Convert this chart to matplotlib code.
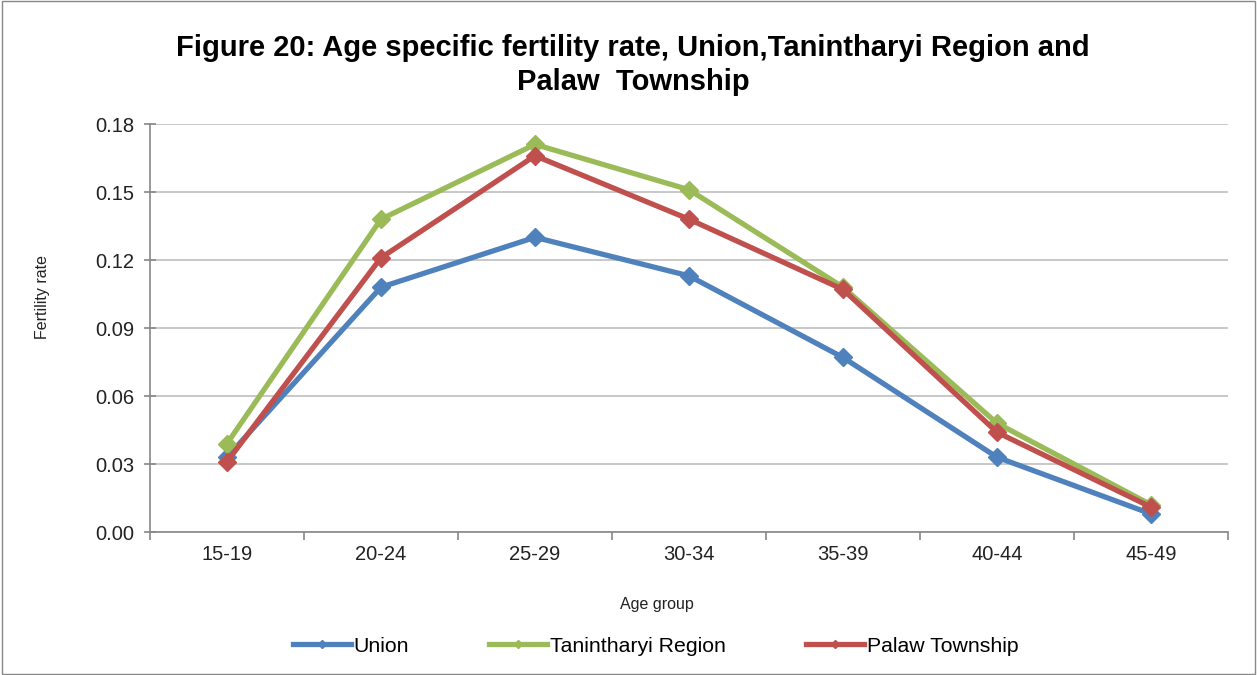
import matplotlib
matplotlib.use("Agg")
import matplotlib.pyplot as plt
from matplotlib.ticker import FixedLocator, FuncFormatter
from matplotlib.patches import Rectangle

plt.rcParams['font.family'] = ['Liberation Sans', 'DejaVu Sans']

age_groups = ["15-19", "20-24", "25-29", "30-34", "35-39", "40-44", "45-49"]
union = [0.033, 0.108, 0.130, 0.113, 0.077, 0.033, 0.008]
tanintharyi = [0.039, 0.138, 0.171, 0.151, 0.108, 0.048, 0.012]
palaw = [0.031, 0.121, 0.166, 0.138, 0.107, 0.044, 0.011]
series_names = ["Union", "Tanintharyi Region", "Palaw Township"]
colors = ["#4F81BD", "#9BBB59", "#C0504D"]
y_ticks = [0.00, 0.03, 0.06, 0.09, 0.12, 0.15, 0.18]

fig = plt.figure(figsize=(12.57, 6.75), dpi=100)
ax = fig.add_axes([150/1257, 1 - 532/675, (1228-150)/1257, (532-124)/675])

x = list(range(len(age_groups)))
for vals, name, c in zip([union, tanintharyi, palaw], series_names, colors):
    ax.plot(x, vals, color=c, lw=3.8, marker='D', markersize=9, label=name,
            solid_joinstyle='round')

ax.set_xlim(-0.5, len(age_groups) - 0.5)
ax.set_ylim(0, 0.18)
ax.set_yticks(y_ticks)
ax.yaxis.set_major_formatter(FuncFormatter(lambda v, p: f"{v:.2f}"))
ax.set_xticks(x)
ax.set_xticklabels(age_groups)
ax.xaxis.set_minor_locator(FixedLocator([i - 0.5 for i in range(len(age_groups) + 1)]))
ax.tick_params(axis='x', which='major', length=0, pad=9, labelsize=14.5, colors='#222222')
ax.tick_params(axis='x', which='minor', length=5.5, color='#888888', width=1.2)
ax.tick_params(axis='y', which='major', direction='inout', length=8.6, color='#888888',
               width=1.2, pad=7, labelsize=14.5, labelcolor='#222222')

ax.grid(axis='y', color='#BFBFBF', lw=1.2)
ax.set_axisbelow(True)
for s in ['top', 'right']:
    ax.spines[s].set_visible(False)
for s in ['left', 'bottom']:
    ax.spines[s].set_color('#888888')
    ax.spines[s].set_linewidth(1.2)

fig.text(42/1257, 1 - 297/675, "Fertility rate", rotation=90, ha='center', va='center',
         fontsize=11.5, color='#222222')
fig.text(657/1257, 1 - 605/675, "Age group", ha='center', va='center', fontsize=11.5,
         color='#222222')
fig.text(633/1257, 1 - 65/675,
         "Figure 20: Age specific fertility rate, Union,Tanintharyi Region and\nPalaw  Township",
         ha='center', va='center', fontsize=21, fontweight='bold', linespacing=1.3)

ax.legend(loc='center', bbox_to_anchor=(655.5/1257, 1 - 646/675),
          bbox_transform=fig.transFigure, ncol=3, frameon=False, fontsize=15.3,
          handlelength=2.73, handletextpad=0.14, columnspacing=3.76, markerscale=0.5,
          borderaxespad=0, borderpad=0)

fig.patches.append(Rectangle((0.0015, 0.002), 0.997, 0.996, transform=fig.transFigure,
                             fill=False, edgecolor='#888888', lw=1.0))

fig.savefig("out.png", dpi=100)
